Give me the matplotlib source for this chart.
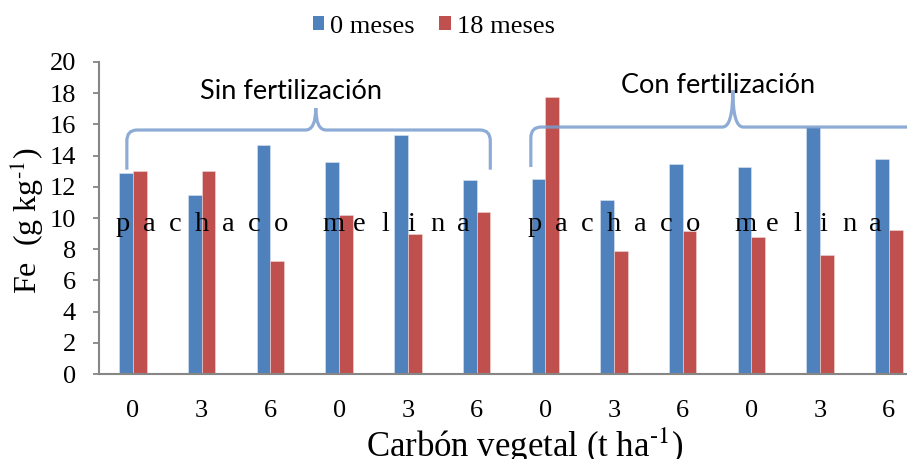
import numpy as np
import matplotlib.pyplot as plt
from matplotlib.path import Path
from matplotlib.patches import PathPatch, Patch

plt.rcParams['font.family'] = ['Liberation Serif', 'DejaVu Serif']
plt.rcParams['mathtext.fontset'] = 'stix'

# Fe content per treatment (carbón vegetal dose), before and after 18 months
doses = ['0', '3', '6', '0', '3', '6', '0', '3', '6', '0', '3', '6']
fe_0m = [12.86, 11.5, 14.7, 13.6, 15.3, 12.46, 12.5, 11.13, 13.48, 13.27, 15.83, 13.78]
fe_18m = [13.0, 13.0, 7.27, 10.2, 9.0, 10.4, 17.78, 7.88, 9.14, 8.8, 7.6, 9.23]
series = ['0 meses', '18 meses']
colors = ['#4F81BD', '#C0504D']
groups = ['Sin fertilización', 'Con fertilización']
species = ['pachaco', 'melina']

fig = plt.figure(figsize=(9.07, 4.59), dpi=100)
ax = fig.add_axes([0.1088, 0.185, 0.909, 0.680])

x = np.arange(len(doses))
w = 0.2
ax.bar(x - w / 2, fe_0m, w, color=colors[0], edgecolor='#dfe8f3', linewidth=0.4, zorder=2)
ax.bar(x + w / 2, fe_18m, w, color=colors[1], edgecolor='#f0d8d7', linewidth=0.4, zorder=2)

ax.set_xlim(-0.5, len(doses) - 0.5)
ax.set_ylim(0, 20)
ax.set_yticks(range(0, 21, 2))
ax.set_xticks(x)
ax.set_xticklabels(doses)
ax.tick_params(axis='y', labelsize=19, length=4.3, width=1.3, color='#868686', pad=12)
ax.tick_params(axis='x', labelsize=19, length=0, pad=19)
for s in ['top', 'right']:
    ax.spines[s].set_visible(False)
for s in ['left', 'bottom']:
    ax.spines[s].set_color('#868686')
    ax.spines[s].set_linewidth(1.5)

ax.set_ylabel(r'Fe  (g kg$^{\text{-}1}$)', fontsize=23)
ax.yaxis.set_label_coords(-0.064, 0.49)
ax.set_xlabel(r'Carbón vegetal (t ha$^{\text{-}1}$)', fontsize=25)
ax.xaxis.set_label_coords(0.517, -0.164)


def brace(x0, x1, xt, yb, yh, yt, rx=0.15, ry=0.7):
    verts = [(x0, yb), (x0, yh - ry), (x0, yh), (x0 + rx, yh),
             (xt - rx, yh), (xt, yh), (xt, yt),
             (xt, yh), (xt + rx, yh),
             (x1 - rx, yh), (x1, yh), (x1, yh - ry), (x1, yb)]
    codes = [Path.MOVETO, Path.LINETO, Path.CURVE3, Path.CURVE3,
             Path.LINETO, Path.CURVE3, Path.CURVE3,
             Path.CURVE3, Path.CURVE3,
             Path.LINETO, Path.CURVE3, Path.CURVE3, Path.LINETO]
    p = PathPatch(Path(verts, codes), fill=False, edgecolor='#7a9dcf',
                  lw=2.3, alpha=0.85, zorder=3, clip_on=False)
    ax.add_patch(p)


brace(-0.09, 5.2, 2.66, 13.1, 15.64, 17.05)
brace(5.79, 11.7, 8.73, 13.27, 15.83, 18.2)

ax.text(2.30, 18.1, groups[0], family=['Lato', 'DejaVu Sans'], fontsize=19.5,
        ha='center', va='center', zorder=4)
ax.text(8.51, 18.5, groups[1], family=['Lato', 'DejaVu Sans'], fontsize=19.5,
        ha='center', va='center', zorder=4)

# spaced species names written across the bars of each block
for g in range(2):
    start = 6 * g
    for word, (a, b) in zip(species, [(-0.15, 2.15), (2.92, 4.8)]):
        pos = np.linspace(start + a, start + b, len(word))
        for ch, px in zip(word, pos):
            ax.text(px, 9.6, ch, fontsize=20.5, ha='center', va='center', zorder=4)

handles = [Patch(facecolor=c, edgecolor='none') for c in colors]
fig.legend(handles, series, loc='center', bbox_to_anchor=(0.478, 0.942), ncol=2,
           frameon=False, fontsize=19, handlelength=0.45, handleheight=0.45,
           handletextpad=0.2, columnspacing=0.95)

fig.savefig('out.png', dpi=100)
